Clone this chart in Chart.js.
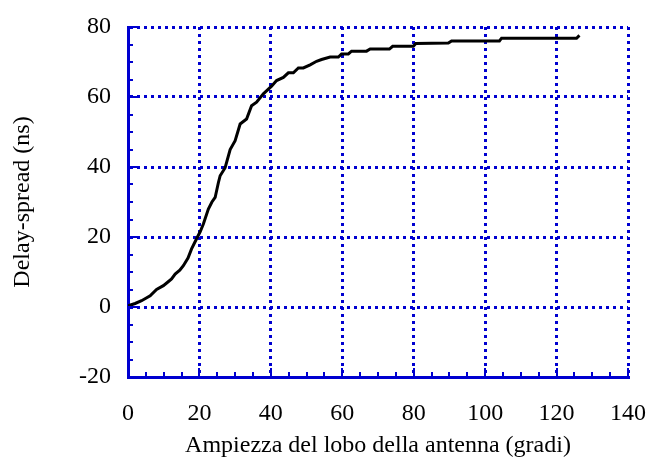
<!DOCTYPE html>
<html>
<head>
<meta charset="utf-8">
<script src="https://cdn.jsdelivr.net/npm/chart.js@4"></script>
<style>
  html, body { margin: 0; padding: 0; background: #fff; }
  #wrap { width: 651px; height: 460px; }
</style>
</head>
<body>
<div id="wrap"><canvas id="delaychart" width="651" height="460"></canvas></div>
<script>
// valori
const ampiezza = [0, 0.5, 2, 3.8, 5, 6.2, 8, 9.9, 11, 12.2,
  13.2, 14.5, 15.5, 16.8, 17.8, 19.2, 20.2, 21.1, 22.5, 23.5,
  24.4, 25.3, 25.8, 27.2, 28.6, 30, 31.4, 33.2, 34.6, 36,
  37.9, 40.2, 41.6, 43.5, 44.9, 46.3, 47.7, 49.1, 51, 52.8,
  54.2, 56.6, 58.9, 59.8, 61.7, 62.6, 66.8, 67.8, 73.2, 74.1,
  79.9, 80.6, 89.7, 90.6, 104, 104.6, 125.6, 126.4];
const delaySpread = [0.3, 0.5, 1, 1.8, 2.5, 3.2, 5, 6.1, 7, 8,
  9.4, 10.5, 11.8, 14, 16.6, 19.5, 21.5, 23.7, 28, 30,
  31.3, 35.5, 37.5, 39.8, 45, 47.5, 52.3, 53.7, 57.5, 58.5,
  60.9, 63.1, 64.7, 65.6, 66.9, 66.9, 68.3, 68.3, 69.2, 70.2,
  70.7, 71.4, 71.4, 72.3, 72.3, 73.1, 73.1, 73.7, 73.7, 74.5,
  74.5, 75.3, 75.4, 76, 76, 76.8, 76.8, 77.6];
const xTicks = [0, 20, 40, 60, 80, 100, 120, 140];
const yTicks = [-20, 0, 20, 40, 60, 80];

const blu = '#0000d0';
Chart.defaults.font.family = "'Liberation Serif', 'Times New Roman', serif";
Chart.defaults.color = '#000';

// tacche interne (maggiori e minori) sugli assi sinistro e inferiore
const tacche = {
  id: 'tacche',
  afterDatasetsDraw(chart) {
    const ctx = chart.ctx, xs = chart.scales.x, ys = chart.scales.y;
    const a = chart.chartArea;
    ctx.save();
    ctx.strokeStyle = blu;
    ctx.lineWidth = 2;
    ctx.beginPath();
    for (let v = xs.min; v <= xs.max; v += 5) {
      const px = Math.round(xs.getPixelForValue(v));
      const len = (v % 20 === 0) ? 9 : 5;
      ctx.moveTo(px, a.bottom);
      ctx.lineTo(px, a.bottom - len);
    }
    for (let v = ys.min; v <= ys.max; v += 5) {
      const py = Math.round(ys.getPixelForValue(v));
      const len = (v % 20 === 0) ? 9 : 5;
      ctx.moveTo(a.left, py);
      ctx.lineTo(a.left + len, py);
    }
    ctx.stroke();
    ctx.restore();
  }
};

const punti = ampiezza.map((x, i) => ({x: x, y: delaySpread[i]}));

new Chart(document.getElementById('delaychart').getContext('2d'), {
  type: 'line',
  data: {
    datasets: [{
      data: punti,
      borderColor: '#000',
      borderWidth: 3,
      pointRadius: 0,
      tension: 0,
      fill: false
    }]
  },
  options: {
    responsive: false,
    animation: false,
    layout: { padding: { top: 27, right: 23, left: 0, bottom: 0 } },
    plugins: { legend: { display: false }, tooltip: { enabled: false } },
    scales: {
      x: {
        type: 'linear',
        min: 0, max: 140,
        afterFit(scale) {
          scale.height = 83;
          scale.paddingLeft = 0;
          scale.paddingRight = 0;
        },
        afterBuildTicks(scale) { scale.ticks = xTicks.map(v => ({value: v})); },
        ticks: { autoSkip: false, maxRotation: 0, padding: 22, font: { size: 24 }, color: '#000' },
        grid: { color: blu, lineWidth: 3, drawTicks: false },
        border: { display: true, color: blu, width: 3, dash: [3, 4] },
        title: {
          display: true,
          text: 'Ampiezza del lobo della antenna (gradi)',
          font: { size: 24 },
          color: '#000',
          padding: { top: 0, bottom: 0 }
        }
      },
      y: {
        min: -20, max: 80,
        afterFit(scale) {
          scale.width = 128;
          scale.paddingTop = 0;
          scale.paddingBottom = 0;
        },
        afterBuildTicks(scale) { scale.ticks = yTicks.map(v => ({value: v})); },
        ticks: { autoSkip: false, padding: 17, font: { size: 24 }, color: '#000' },
        grid: { color: blu, lineWidth: 3, drawTicks: false },
        border: { display: true, color: blu, width: 3, dash: [3, 4] },
        title: {
          display: true,
          text: 'Delay-spread (ns)',
          font: { size: 24 },
          color: '#000',
          padding: { top: 8, bottom: 0 }
        }
      }
    }
  },
  plugins: [tacche]
});
</script>
</body>
</html>
